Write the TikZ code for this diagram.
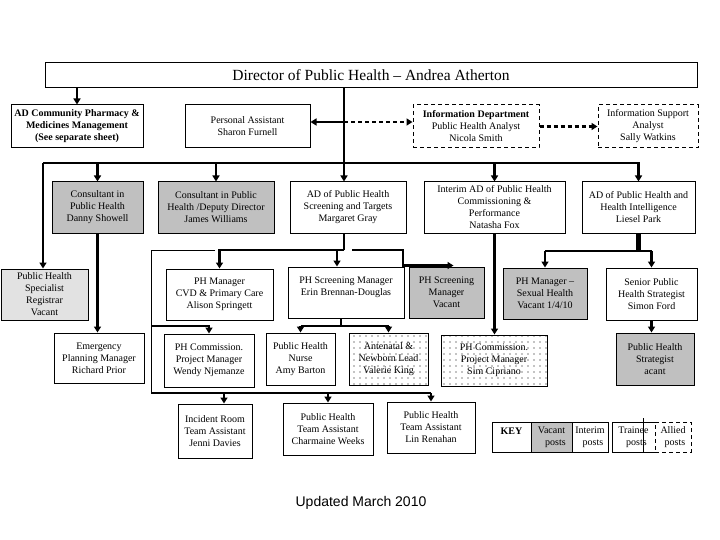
\documentclass[tikz,border=0pt]{standalone}
\usepackage{fontspec}
\setmainfont{Liberation Serif}
\newfontfamily\arialfont{Liberation Sans}
\usetikzlibrary{arrows.meta,patterns.meta}
\definecolor{boxgray}{HTML}{C0C0C0}
\definecolor{reggray}{HTML}{E2E2E2}
\newcommand\pbox[7]{\node[#2, minimum width={(#5)-(#3)}, minimum height={(#6)-(#4)}] (#1) at ({((#3)+(#5))/2},{((#4)+(#6))/2}) {#7};}
\tikzset{
  box/.style={draw, line width=1pt, align=center, inner sep=0pt, fill=white, font=\fontsize{10}{12}\selectfont},
  greybox/.style={box, fill=boxgray},
  regbox/.style={box, fill=reggray},
  dashbox/.style={box, dash pattern=on 4pt off 3pt},
  dotbox/.style={box, pattern={Dots[distance=6pt,radius=0.55pt]}, pattern color=black},
  conn/.style={line width=2.5pt},
  arr/.style={-{Triangle[length=6pt,width=7pt]}},
  dline/.style={dash pattern=on 4pt off 3pt},
  thinline/.style={line width=1pt}
}
\begin{document}
\begin{tikzpicture}[x=1pt,y=-1pt]
\useasboundingbox[fill=white] (0,0) rectangle (720,540);

% boxes
\pbox{dir}{box, font=\fontsize{15.5}{18}\selectfont}{45}{63}{697}{88}{Director of Public Health -- Andrea Atherton}
\pbox{pharm}{box}{11}{105}{143}{148}{\textbf{AD Community Pharmacy \&}\\\textbf{Medicines Management}\\\textbf{(See separate sheet)}}
\pbox{pa}{box}{185}{105}{310}{148}{Personal Assistant\\Sharon Furnell}
\pbox{info}{dashbox}{413}{105}{539}{148}{\textbf{Information Department}\\Public Health Analyst\\Nicola Smith}
\pbox{sup}{dashbox}{598}{105}{698}{148}{Information Support\\Analyst\\Sally Watkins}

\pbox{cons1}{greybox}{52}{182}{143}{233}{Consultant in\\Public Health\\Danny Showell}
\pbox{cons2}{greybox}{158}{182}{274}{233}{Consultant in Public\\Health /Deputy Director\\James Williams}
\pbox{adscr}{box}{290}{182}{406}{233}{AD of Public Health\\Screening and Targets\\Margaret Gray}
\pbox{interim}{box}{424}{182}{565}{233}{Interim AD of Public Health\\Commissioning \&\\Performance\\Natasha Fox}
\pbox{adhi}{box}{582}{182}{695}{233}{AD of Public Health and\\Health Intelligence\\Liesel Park}

\pbox{reg}{regbox}{1}{269}{88}{320}{Public Health\\Specialist\\Registrar\\Vacant}
\pbox{emerg}{box}{54}{333}{144}{383}{Emergency\\Planning Manager\\Richard Prior}
\pbox{cvd}{box}{166}{269}{273}{320}{PH Manager\\CVD \& Primary Care\\Alison Springett}
\pbox{erin}{box}{288}{267}{404}{318}{PH Screening Manager\\Erin Brennan-Douglas\\\mbox{}}
\pbox{vacscr}{greybox}{409}{267}{484}{318}{PH Screening\\Manager\\Vacant}
\pbox{sexh}{greybox}{503}{268}{587}{319}{PH Manager --\\Sexual Health\\Vacant 1/4/10}
\pbox{simon}{box}{606}{268}{697}{320}{Senior Public\\Health Strategist\\Simon Ford}

\pbox{wendy}{box}{164}{334}{254}{387}{PH Commission.\\Project Manager\\Wendy Njemanze}
\pbox{nurse}{box}{266}{333}{335}{385}{Public Health\\Nurse\\Amy Barton}
\pbox{ante}{dotbox}{349}{333}{428}{385}{Antenatal \&\\Newborn Lead\\Valerie King}
\pbox{sim}{dotbox}{441}{335}{547}{386}{PH Commission.\\Project Manager\\Sim Cipriano}
\pbox{strat}{greybox}{616}{333}{694}{385}{Public Health\\Strategist\\acant}

\pbox{incident}{box}{178}{404}{252}{458}{Incident Room\\Team Assistant\\Jenni Davies}
\pbox{charm}{box}{283}{403}{373}{455}{Public Health\\Team Assistant\\Charmaine Weeks}
\pbox{lin}{box}{387}{402}{475}{453}{Public Health\\Team Assistant\\Lin Renahan}

% key
\pbox{k1}{box}{492}{422}{531}{452}{\textbf{KEY}\\\mbox{}}
\pbox{k2}{greybox}{531}{422}{572}{452}{Vacant\\\hspace*{8pt}posts}
\pbox{k3}{box}{572}{422}{608}{452}{Interim\\\hspace*{6pt}posts}
\pbox{k4}{box}{612}{422}{655}{452}{Trainee\\\hspace*{6pt}posts}
\pbox{k5}{dashbox}{655}{422}{691}{452}{Allied\\\hspace*{4pt}posts}
\coordinate (kt) at (643,418);
\draw[thinline] (kt) -- (kt |- k4.south);

\node[font=\arialfont\fontsize{14}{16}\selectfont] (upd) at (361,503) {Updated March 2010};

% connectors
\coordinate (tr) at (344,163);
\coordinate (mid) at (344,122);
\coordinate (busL) at (43,163);
\coordinate (busR) at (640,163);
\draw[conn,arr] (dir.south -| pharm.north) -- (pharm.north);
\draw[conn] (dir.south -| tr) -- (tr);
\draw[conn,arr] (mid) -- (mid -| pa.east);
\draw[conn,dline,arr] (mid) -- (mid -| info.west);
\draw[conn,dline,arr] (info.east) -- (sup.west);
\draw[conn] (busL) -- (busR);
\foreach \n in {cons1,cons2,interim,adhi}
  \draw[conn,arr] (busL -| \n.north) -- (\n.north);
\draw[conn,arr] (tr) -- (tr |- adscr.north);
\draw[conn,arr] (busL) -- (busL |- reg.north);
\draw[conn,arr] (cons1.south) -- (cons1.south |- emerg.north);

% screening branch
\coordinate (s1) at (344,250);
\coordinate (es) at ([xshift=-9pt]erin.north);
\draw[conn] (adscr.south -| s1) -- (s1);
\draw[conn,arr] (s1) -| (cvd.north);
\draw[conn,arr] (s1) -| (es);
\coordinate (s2) at (352,250);
\coordinate (s3) at (403,250);
\coordinate (vs) at ([xshift=7pt,yshift=1pt]vacscr.north);
\draw[conn,arr] (s2) -- (s3) |- (vs);

% thin bracket and team lines
\coordinate (b1) at (215,250);
\coordinate (b2) at (151,250);
\coordinate (bb) at (151,393);
\draw[thinline] (b1) -- (b2) -- (bb);
\coordinate (w1) at (151,326);
\draw[conn,arr] (w1) -| (wendy.north);
\coordinate (ia) at ([xshift=9pt]incident.north);
\draw[conn] (bb) -- (bb -| lin.north);
\draw[conn,arr] (ia |- bb) -- (ia);
\draw[conn,arr] (charm.north |- bb) -- (charm.north);
\draw[conn,arr] (lin.north |- bb) -- (lin.north);

% erin children
\coordinate (e1) at (341,326);
\coordinate (ea) at ([xshift=-5pt]erin.south);
\draw[conn] (ea) -- (ea |- e1);
\draw[conn] (nurse.north |- e1) -- (ante.north |- e1);
\draw[conn,arr] (nurse.north |- e1) -- (nurse.north);
\draw[conn,arr] (ante.north |- e1) -- (ante.north);

% interim
\draw[conn,arr] (interim.south) -- (interim.south |- sim.north);

% health intelligence
\coordinate (h1) at (639,251);
\draw[line width=4.5pt] (adhi.south) -- (adhi.south |- h1);
\draw[conn] (h1 -| sexh.north) -- (h1 -| simon.north);
\draw[conn,arr] (h1 -| sexh.north) -- (sexh.north);
\draw[conn,arr] (h1 -| simon.north) -- (simon.north);
\draw[conn,arr] (simon.south) -- (simon.south |- strat.north);
\end{tikzpicture}
\end{document}
